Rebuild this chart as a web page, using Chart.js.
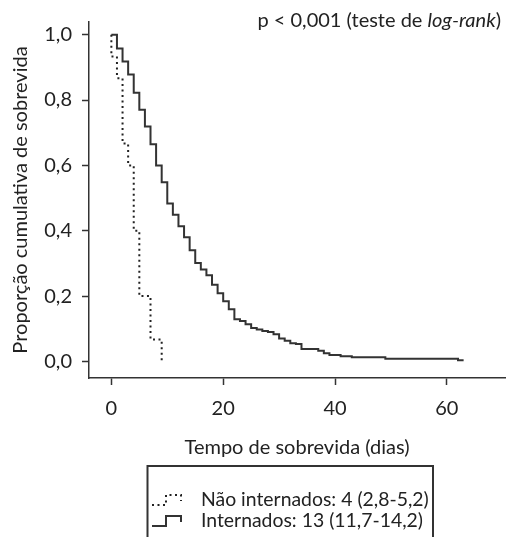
<!DOCTYPE html>
<html><head><meta charset="utf-8">
<script src="https://cdn.jsdelivr.net/npm/chart.js@4/dist/chart.umd.min.js"></script>
<style>html,body{margin:0;padding:0;background:#fff}#wrap{width:508px;height:537px;position:relative}</style>
</head><body><div id="wrap"><canvas id="c" width="508" height="537"></canvas></div>
<script>
// ---- data ----
const naoIntTimes = [0, 0, 1, 2, 3, 4, 5, 7, 9];
const naoIntSurv  = [1.0, 0.933, 0.867, 0.667, 0.600, 0.400, 0.200, 0.067, 0.0];
const intTimes = [0, 1, 2, 3, 4, 5, 6, 7, 8, 9, 10, 11, 12, 13, 14, 15, 16, 17, 18, 19, 20, 21, 22, 23, 24, 25, 26, 27, 28, 29, 30, 31, 32, 33, 34, 37, 38, 39, 41, 43, 49, 62, 63];
const intSurv  = [1.0, 0.958, 0.918, 0.878, 0.822, 0.770, 0.719, 0.665, 0.600, 0.548, 0.483, 0.449, 0.414, 0.380, 0.340, 0.301, 0.281, 0.264, 0.235, 0.209, 0.184, 0.160, 0.129, 0.124, 0.114, 0.102, 0.098, 0.093, 0.090, 0.083, 0.070, 0.063, 0.056, 0.053, 0.038, 0.033, 0.025, 0.020, 0.016, 0.013, 0.008, 0.004, 0.004];
const seriesLabels = ['Não internados: 4 (2,8-5,2)', 'Internados: 13 (11,7-14,2)'];
const xTickValues = [0, 20, 40, 60];
const yTickValues = [0, 0.2, 0.4, 0.6, 0.8, 1.0];
const xTitle = 'Tempo de sobrevida (dias)';
const yTitle = 'Proporção cumulativa de sobrevida';
const noteMain = 'p < 0,001 (teste de ';
const noteItalic = 'log-rank';
const noteEnd = ')';

const FONT = 'Lato';
const FS = 20;
const INK = '#222';
const LINE = '#333';

const toPts = (xs, ys) => xs.map((x, i) => ({x, y: ys[i]}));
const fmt = v => v.toFixed(1).replace('.', ',');

const notePlugin = {
  id: 'note',
  afterDraw(chart) {
    const ctx = chart.ctx;
    ctx.save();
    ctx.fillStyle = INK;
    ctx.textBaseline = 'middle';
    const fN = FS + 'px ' + FONT, fI = 'italic ' + FS + 'px ' + FONT;
    ctx.font = fN; const w1 = ctx.measureText(noteMain).width, w3 = ctx.measureText(noteEnd).width;
    ctx.font = fI; const w2 = ctx.measureText(noteItalic).width;
    let x = 501 - (w1 + w2 + w3);
    const y = 21;
    ctx.font = fN; ctx.fillText(noteMain, x, y); x += w1;
    ctx.font = fI; ctx.fillText(noteItalic, x, y); x += w2;
    ctx.font = fN; ctx.fillText(noteEnd, x, y);
    ctx.restore();
  }
};

const legendPlugin = {
  id: 'boxLegend',
  afterDraw(chart) {
    const ctx = chart.ctx;
    ctx.save();
    ctx.strokeStyle = LINE; ctx.lineWidth = 2;
    ctx.beginPath();
    ctx.moveTo(147.5, 545); ctx.lineTo(147.5, 466); ctx.lineTo(433, 466); ctx.lineTo(433, 545);
    ctx.stroke();
    const rows = [500, 521];
    chart.data.datasets.forEach((ds, i) => {
      const y = rows[i];
      ctx.strokeStyle = ds.borderColor; ctx.lineWidth = ds.borderWidth;
      ctx.setLineDash(ds.borderDash || []);
      ctx.beginPath();
      ctx.moveTo(152, y + 5); ctx.lineTo(166, y + 5); ctx.lineTo(166, y - 5); ctx.lineTo(181, y - 5); ctx.lineTo(181, y + 1);
      ctx.stroke();
      ctx.setLineDash([]);
      ctx.fillStyle = INK; ctx.font = '19.4px ' + FONT; ctx.textBaseline = 'middle';
      ctx.fillText(ds.label, 201, y);
    });
    ctx.restore();
  }
};

new Chart(document.getElementById('c'), {
  type: 'line',
  data: {
    datasets: [
      { label: seriesLabels[0], data: toPts(naoIntTimes, naoIntSurv), stepped: 'before', borderColor: '#222', borderWidth: 2, borderDash: [2, 3.5], pointRadius: 0, fill: false },
      { label: seriesLabels[1], data: toPts(intTimes, intSurv), stepped: 'before', borderColor: '#333', borderWidth: 2, pointRadius: 0, fill: false }
    ]
  },
  options: {
    responsive: false, animation: false, devicePixelRatio: 1,
    layout: { padding: { left: 0, right: 3, top: 13, bottom: 73 } },
    plugins: { legend: { display: false }, tooltip: { enabled: false } },
    scales: {
      x: {
        type: 'linear', min: -4.0, max: 70.4,
        afterBuildTicks: s => { s.ticks = xTickValues.map(v => ({value: v})); },
        afterFit: s => { s.height = 86; },
        ticks: { color: INK, font: { family: FONT, size: FS }, padding: 12, callback: v => String(v), maxRotation: 0 },
        grid: { drawOnChartArea: false, drawTicks: true, tickLength: 7, tickWidth: 1.5, tickColor: LINE },
        border: { display: true, color: LINE, width: 1.5 },
        title: { display: true, text: xTitle, color: INK, font: { family: FONT, size: FS }, padding: { top: 4, bottom: 4 } }
      },
      y: {
        type: 'linear', min: -0.0507, max: 1.0388,
        afterBuildTicks: s => { s.ticks = yTickValues.map(v => ({value: v})); },
        afterFit: s => { s.width = 89; },
        ticks: { color: INK, font: { family: FONT, size: FS }, padding: 10, callback: v => fmt(v) },
        grid: { drawOnChartArea: false, drawTicks: true, tickLength: 7, tickWidth: 1.5, tickColor: LINE },
        border: { display: true, color: LINE, width: 1.5 },
        title: { display: true, text: yTitle, color: INK, font: { family: FONT, size: FS }, padding: { top: 9, bottom: 4 } }
      }
    }
  },
  plugins: [notePlugin, legendPlugin]
});
</script>
</body></html>
